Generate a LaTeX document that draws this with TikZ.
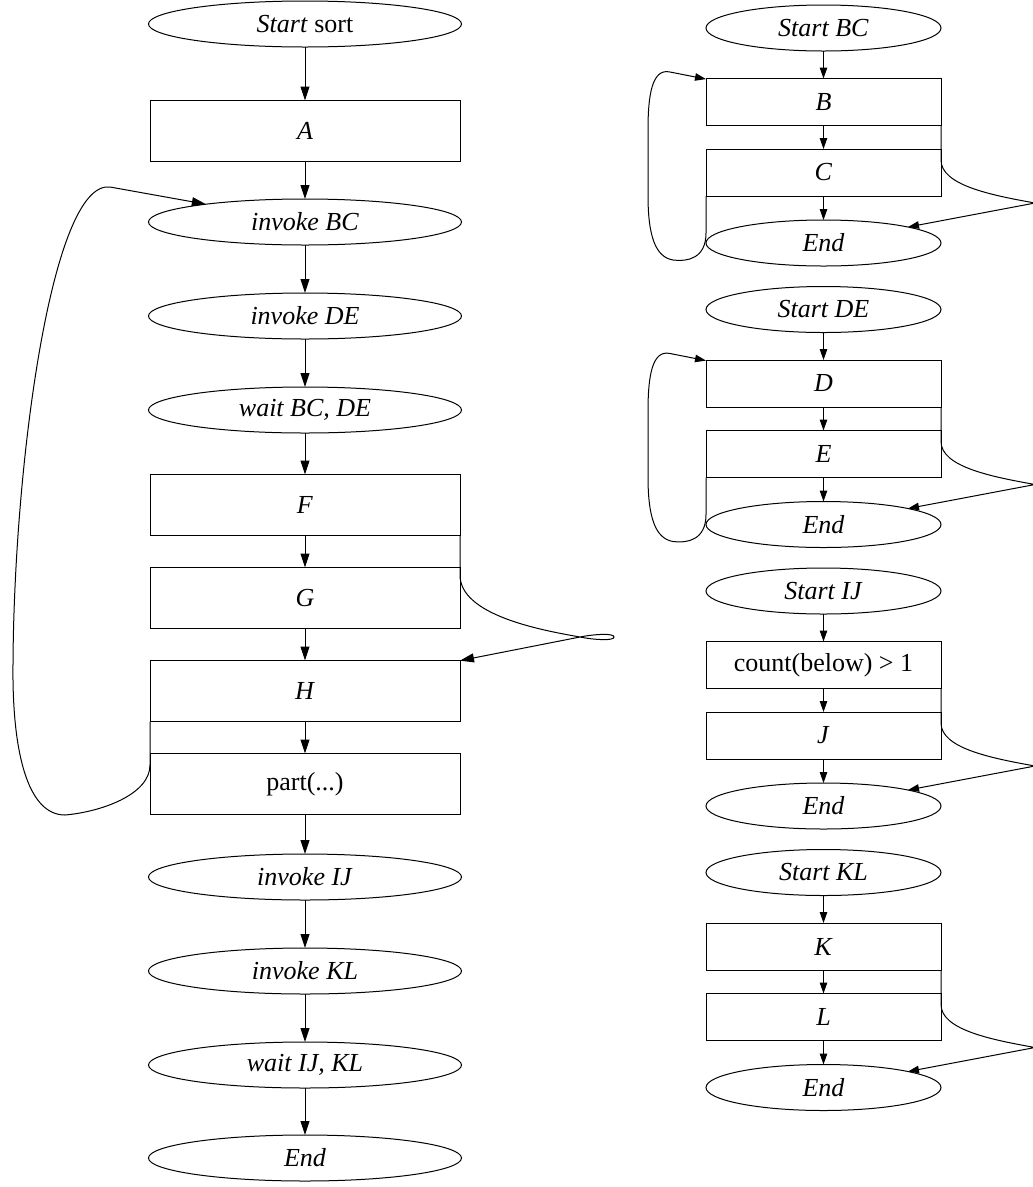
\documentclass[tikz,border=0pt]{standalone}
\usepackage{fontspec}
\setmainfont{Liberation Serif}
\usetikzlibrary{shapes.geometric,arrows.meta}
\begin{document}
\begin{tikzpicture}[x=1pt,y=-1pt,
  every node/.style={font=\fontsize{26}{30}\selectfont, inner sep=0pt, outer sep=0pt, line width=1pt},
  lbox/.style={draw, rectangle, minimum width=310pt, minimum height=61pt},
  lell/.style={draw, ellipse, minimum width=313pt, minimum height=46pt},
  rbox/.style={draw, rectangle, minimum width=235pt, minimum height=47pt},
  rell/.style={draw, ellipse, minimum width=235pt, minimum height=46pt},
  larr/.style={draw, line width=1pt, -{Triangle[length=14pt,width=9pt]}},
  rarr/.style={draw, line width=1pt, -{Triangle[length=11pt,width=7.5pt]}},
  ]
\useasboundingbox (0,0) rectangle (1033,1187);

% left column
\node[lell] (s)   at (305,24)   {\textit{Start} sort};
\node[lbox] (a)   at (305,131)  {\textit{A}};
\node[lell] (ibc) at (305,222)  {\textit{invoke BC}};
\node[lell] (ide) at (305,316)  {\textit{invoke DE}};
\node[lell] (wbd) at (305,410)  {\textit{wait BC, DE}};
\node[lbox] (f)   at (305,505)  {\textit{F}};
\node[lbox] (g)   at (305,598)  {\textit{G}};
\node[lbox] (h)   at (305,691)  {\textit{H}};
\node[lbox] (p)   at (305,784)  {part(...)};
\node[lell] (iij) at (305,877)  {\textit{invoke IJ}};
\node[lell] (ikl) at (305,971)  {\textit{invoke KL}};
\node[lell] (wik) at (305,1065) {\textit{wait IJ, KL}};
\node[lell] (e)   at (305,1158) {\textit{End}};

\foreach \x/\y in {s/a,a/ibc,ibc/ide,ide/wbd,wbd/f,f/g,g/h,h/p,p/iij,iij/ikl,ikl/wik,wik/e}
  \draw[larr] (\x) -- (\y);

% F -> H loop on the right
\draw[larr] (f.south east) -- (460,575) .. controls (460,615) and (540,630) .. (580,637)
  .. controls (595,640) and (614,641) .. (614,637) .. controls (614,633) and (595,634) .. (580,637) -- (h);

% big loop on the left
\draw[larr] (h.south west) -- (150,765) .. controls (150,795) and (100,812) .. (65,815)
  .. controls (30,815) and (14,760) .. (13,680)
  .. controls (12,480) and (50,180) .. (110,187) -- (ibc);

% right column
\node[rell] (sbc) at (823.5,28)    {\textit{Start BC}};
\node[rbox] (b)   at (823.5,102)   {\textit{B}};
\node[rbox] (c)   at (823.5,172.5) {\textit{C}};
\node[rell] (ebc) at (823.5,243)   {\textit{End}};

\node[rell] (sde) at (823.5,309.5) {\textit{Start DE}};
\node[rbox] (d)   at (823.5,383.5) {\textit{D}};
\node[rbox] (ee)  at (823.5,454)   {\textit{E}};
\node[rell] (ede) at (823.5,524.5) {\textit{End}};

\node[rell] (sij) at (823.5,591)   {\textit{Start IJ}};
\node[rbox] (cnt) at (823.5,665)   {count(below) > 1};
\node[rbox] (j)   at (823.5,735.5) {\textit{J}};
\node[rell] (eij) at (823.5,806)   {\textit{End}};

\node[rell] (skl) at (823.5,872.5) {\textit{Start KL}};
\node[rbox] (k)   at (823.5,946.5) {\textit{K}};
\node[rbox] (l)   at (823.5,1017)  {\textit{L}};
\node[rell] (ekl) at (823.5,1087.5){\textit{End}};

\foreach \x/\y in {sbc/b,b/c,c/ebc,sde/d,d/ee,ee/ede,sij/cnt,cnt/j,j/eij,skl/k,k/l,l/ekl}
  \draw[rarr] (\x) -- (\y);

% right-side loops to End
\foreach \o/\u/\e in {0/b/ebc, 281.5/d/ede, 563/cnt/eij, 844.5/k/ekl}
  \draw[rarr] (\u.south east) -- (941,160+\o) .. controls (941,185+\o) and (990,195+\o) .. (1035,203+\o)
    .. controls (1045,205+\o) and (1050,204+\o) .. (1050,203+\o)
    .. controls (1050,201+\o) and (1045,201+\o) .. (1035,203+\o) -- (\e);

% left-side loops back
\foreach \o/\u/\w in {0/b/c, 281.5/d/ee}
  \draw[rarr] (\w.south west) -- (706,233+\o) .. controls (706,258+\o) and (688,262+\o) .. (673,260+\o)
    .. controls (655,257+\o) and (648,235+\o) .. (648,195+\o) -- (648,130+\o)
    .. controls (648,95+\o) and (652,68+\o) .. (670,72+\o) -- (\u);
\end{tikzpicture}
\end{document}
